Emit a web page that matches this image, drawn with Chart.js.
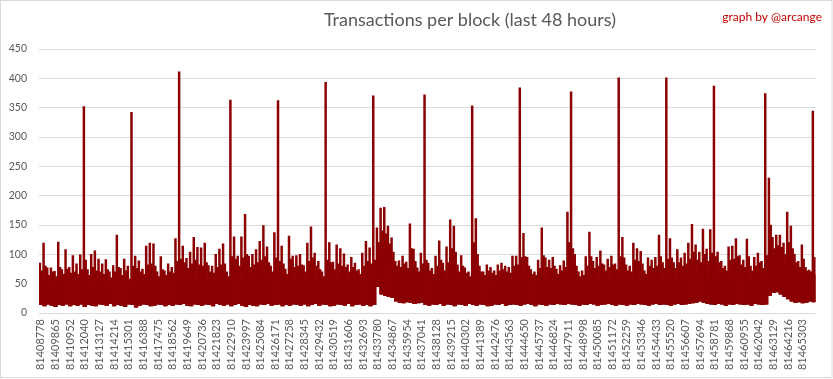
<!DOCTYPE html>
<html>
<head>
<meta charset="utf-8">
<script src="https://cdn.jsdelivr.net/npm/chart.js@4.4.1/dist/chart.umd.min.js"></script>
<style>
  html, body { margin: 0; padding: 0; background: #ffffff; }
  canvas { display: block; }
</style>
</head>
<body>
<canvas id="c" width="833" height="379" style="width:833px;height:379px"></canvas>
<script>
// ---- data ----
const titleText = 'Transactions per block (last 48 hours)';
const creditText = 'graph by @arcange';

// block numbers shown on the x axis
const tickLabels = [
  '81408778','81409865','81410952','81412040','81413127','81414214','81415301','81416388','81417475','81418562',
  '81419649','81420736','81421823','81422910','81423997','81425084','81426171','81427258','81428345','81429432',
  '81430519','81431606','81432693','81433780','81434867','81435954','81437041','81438128','81439215','81440302',
  '81441389','81442476','81443563','81444650','81445737','81446824','81447911','81448998','81450085','81451172',
  '81452259','81453346','81454433','81455520','81456607','81457694','81458781','81459868','81460955','81462042',
  '81463129','81464216','81465303'
];

// y axis ticks
const yTicks = [0, 50, 100, 150, 200, 250, 300, 350, 400, 450];

// per column (4 columns between two x labels): highest single block
const peakTx = [
  85,119,77,77,71,121,74,108,78,98,
  84,99,352,74,100,106,92,84,91,70,
  81,133,76,92,80,342,97,89,75,114,
  119,118,70,96,72,84,78,127,411,114,
  93,104,129,112,111,119,81,80,100,109,
  118,70,363,130,97,130,168,97,100,108,
  122,149,113,80,137,362,114,75,131,97,
  98,100,81,119,147,102,88,70,393,120,
  87,116,110,101,82,95,85,74,102,122,
  111,370,145,179,180,148,128,88,89,97,
  87,152,109,77,102,372,85,76,97,123,
  85,113,159,148,82,98,77,70,353,161,
  80,70,82,78,72,82,85,80,78,97,
  97,384,136,95,74,70,90,145,94,90,
  95,75,81,89,172,377,100,70,72,96,
  138,88,95,106,82,92,97,84,401,129,
  82,80,119,110,105,72,94,90,95,133,
  86,401,127,86,108,94,102,119,151,116,
  104,143,109,142,387,104,88,80,113,114,
  127,98,90,126,80,95,102,88,374,230,
  129,133,133,119,172,148,100,88,116,78,
  73,344
];

// per column: second highest spike
const secondTx = [
  72,80,64,70,62,78,66,75,68,70,
  66,74,90,64,78,72,70,66,74,60,
  70,78,64,72,58,80,76,70,66,82,
  84,80,62,74,64,70,68,88,92,86,
  76,84,90,82,80,86,70,68,78,82,
  84,62,96,92,80,94,100,78,82,86,
  90,96,86,70,94,88,84,66,92,78,
  80,82,70,88,94,80,74,62,90,86,
  74,84,80,78,70,78,72,66,80,88,
  84,90,120,140,135,118,104,80,78,84,
  76,110,88,70,84,90,72,66,80,90,
  72,86,110,104,70,80,68,62,120,100,
  70,64,72,68,64,72,74,70,68,80,
  82,95,96,80,66,64,76,98,78,76,
  80,66,72,78,120,110,80,62,64,80,
  96,76,80,84,72,78,82,74,96,94,
  72,70,90,88,84,66,80,76,80,96,
  76,92,94,76,86,80,84,92,104,90,
  86,100,88,102,96,86,76,72,90,92,
  96,82,78,96,72,80,86,76,98,150,
  110,115,112,100,120,110,86,78,92,72,
  70,95
];

// per column: top of the dense band of typical blocks
const coreTx = [
  52,58,55,50,48,55,52,50,54,56,
  50,53,55,50,52,55,50,48,52,46,
  50,48,52,45,48,50,55,58,52,56,
  60,58,50,52,50,52,52,58,60,62,
  58,55,60,58,55,52,55,55,52,55,
  55,52,58,60,55,58,60,62,60,62,
  65,68,62,58,60,62,65,58,60,58,
  56,55,52,55,58,55,54,52,55,58,
  56,55,58,55,54,56,55,52,55,58,
  56,55,85,100,105,92,85,70,68,72,
  65,68,66,62,65,62,58,55,56,60,
  56,58,62,60,56,58,55,52,58,60,
  55,52,55,54,52,55,56,55,54,56,
  58,55,58,60,55,54,56,58,56,55,
  56,55,56,62,70,68,60,52,55,56,
  58,56,55,58,56,55,58,56,60,62,
  56,55,58,60,58,55,56,58,58,60,
  56,58,60,56,58,56,58,62,68,66,
  62,66,62,65,66,62,60,58,62,64,
  66,62,60,64,58,60,62,58,65,100,
  95,90,85,80,85,75,70,66,68,65,
  62,65
];

// per column: lowest block
const lowTx = [
  14,12,15,13,11,14,13,15,12,14,
  13,15,11,14,13,12,15,14,13,16,
  12,14,13,11,15,14,10,13,15,14,
  12,13,15,14,12,14,13,15,14,16,
  13,12,15,14,13,15,14,12,16,14,
  13,15,12,14,16,13,11,14,13,12,
  15,14,16,13,14,15,12,14,13,15,
  14,13,15,12,14,16,13,15,14,12,
  13,15,14,13,16,12,14,15,13,14,
  12,14,45,32,30,28,26,20,18,17,
  19,18,16,17,18,14,13,15,14,16,
  13,15,14,12,15,14,13,16,14,13,
  15,14,12,13,15,14,16,13,14,15,
  14,13,15,16,14,12,15,14,13,15,
  14,16,15,14,16,15,14,13,15,14,
  16,15,13,14,15,16,14,13,15,14,
  13,15,14,16,15,14,13,15,16,14,
  15,14,13,15,16,14,15,16,17,18,
  20,18,16,15,14,16,15,13,15,14,
  16,15,14,15,13,16,15,14,15,30,
  35,36,32,28,24,20,18,19,17,18,
  20,19
];

const COLS_PER_LABEL = 4;

// ---- build chart tables from the arrays ----
const categories = peakTx.map((_, j) =>
  (j % COLS_PER_LABEL === 0 && tickLabels[j / COLS_PER_LABEL]) ? tickLabels[j / COLS_PER_LABEL] : '');
const bandData = coreTx.map((v, j) => [lowTx[j], v]);
const peakData = peakTx.map((v, j) => [lowTx[j], v]);
const secondData = secondTx.map((v, j) => [lowTx[j], v]);

const barColor = '#8b0000';
const axisFont = { family: 'Lato', size: 10.5 };

const decorPlugin = {
  id: 'decor',
  afterDraw(chart) {
    const c = chart.ctx;
    c.save();
    c.fillStyle = '#595959';
    c.font = '18px Lato';
    c.textAlign = 'center';
    c.textBaseline = 'middle';
    c.fillText(titleText, 470, 20);
    c.fillStyle = '#c00000';
    c.font = '12px Lato';
    c.textAlign = 'right';
    c.fillText(creditText, 822, 17);
    c.strokeStyle = '#d9d9d9';
    c.lineWidth = 1;
    c.strokeRect(0.5, 0.5, 831.5, 377);
    c.restore();
  }
};

new Chart(document.getElementById('c'), {
  type: 'bar',
  data: {
    labels: categories,
    datasets: [
      { data: peakData, backgroundColor: barColor, barPercentage: 1, categoryPercentage: 1, grouped: true },
      { data: secondData, backgroundColor: barColor, barPercentage: 1, categoryPercentage: 1, grouped: true },
      { data: bandData, backgroundColor: barColor, barPercentage: 1, categoryPercentage: 1, grouped: false }
    ]
  },
  options: {
    responsive: false,
    animation: false,
    layout: { padding: { top: 49, right: 15, left: 0, bottom: 0 } },
    plugins: { legend: { display: false }, tooltip: { enabled: false }, title: { display: false } },
    scales: {
      x: {
        grid: { display: false, drawTicks: false },
        border: { color: '#d9d9d9', width: 1 },
        ticks: {
          autoSkip: false, minRotation: 90, maxRotation: 90,
          font: { family: 'Lato', size: 11 }, color: '#595959', padding: 6
        },
        afterFit: s => { s.height = 66; }
      },
      y: {
        min: 0, max: 450,
        afterBuildTicks: s => { s.ticks = yTicks.map(v => ({ value: v })); },
        grid: { color: '#d9d9d9', drawTicks: false },
        border: { display: false },
        ticks: { font: axisFont, color: '#595959', padding: 12 },
        afterFit: s => { s.width = 39; }
      }
    }
  },
  plugins: [decorPlugin]
});
</script>
</body>
</html>
